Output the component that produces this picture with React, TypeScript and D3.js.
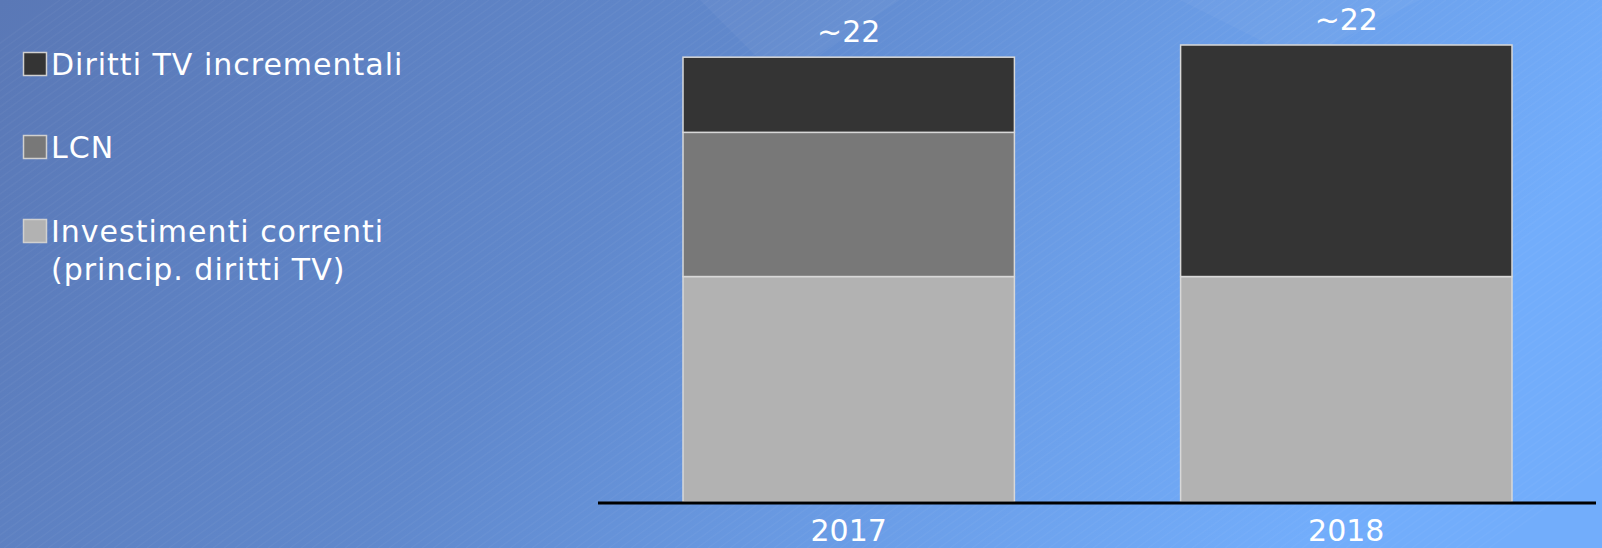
import React from "react";
import * as d3 from "d3";

const years = ["2017", "2018"];
const seriesNames = ["Investimenti correnti", "LCN", "Diritti TV incrementali"];
const investimenti = [11.1, 11.1];
const lcn = [7.1, 0];
const diritti = [3.7, 11.4];
const totalLabels = ["~22", "~22"];
const legendItems = [
  { key: "Diritti TV incrementali", lines: ["Diritti TV incrementali"] },
  { key: "LCN", lines: ["LCN"] },
  { key: "Investimenti correnti", lines: ["Investimenti correnti", "(princip. diritti TV)"] },
];

const W = 1602;
const H = 548;
const colors: Record<string, string> = {
  "Investimenti correnti": "#b2b2b2",
  LCN: "#787878",
  "Diritti TV incrementali": "#343434",
};

export default function App() {
  const baseY = 502;
  const x = d3.scaleBand<string>().domain(years).range([683, 1512]).paddingInner(0.334).paddingOuter(0);
  const y = d3.scaleLinear().domain([0, 22.5]).range([baseY, 45]);
  const rows = years.map((yr, i) => ({
    year: yr,
    "Investimenti correnti": investimenti[i],
    LCN: lcn[i],
    "Diritti TV incrementali": diritti[i],
  }));
  const stack = d3.stack<any>().keys(seriesNames)(rows);
  const font = "'DejaVu Sans', Verdana, sans-serif";
  const legendY = [64, 147, 231];

  const streaks = d3.range(0, 200);

  return (
    <svg width={W} height={H} style={{ position: "absolute", left: 0, top: 0 }} fontFamily={font}>
      <defs>
        <linearGradient id="bg" x1="0" y1="0" x2="1" y2="0.25">
          <stop offset="0" stopColor="#5a78b6" />
          <stop offset="0.45" stopColor="#6088cc" />
          <stop offset="0.75" stopColor="#6b9ee8" />
          <stop offset="1" stopColor="#72adfb" />
        </linearGradient>
      </defs>
      <rect x={0} y={0} width={W} height={H} fill="url(#bg)" />
      <g opacity={0.03} stroke="#ffffff" strokeWidth={1.5}>
        {streaks.map((i) => (
          <line key={i} x1={-700 + i * 11} y1={H} x2={-700 + i * 11 + 760} y2={0} />
        ))}
      </g>
      <polygon points="700,0 900,0 780,80" fill="#ffffff" opacity={0.04} />
      <polygon points="1180,0 1420,0 1300,60" fill="#ffffff" opacity={0.04} />

      {stack.map((s) =>
        s.map((d, i) => {
          const h = y(d[0]) - y(d[1]);
          if (h <= 0) return null;
          return (
            <rect
              key={s.key + i}
              x={x(years[i])!}
              y={y(d[1])}
              width={x.bandwidth()}
              height={h}
              fill={colors[s.key]}
              stroke="#d8d8d8"
              strokeWidth={1.5}
            />
          );
        })
      )}

      {years.map((yr, i) => {
        const top = y(investimenti[i] + lcn[i] + diritti[i]);
        return (
          <text
            key={"t" + yr}
            x={x(yr)! + x.bandwidth() / 2}
            y={top - 15}
            textAnchor="middle"
            fontSize={30}
            fill="#ffffff"
          >
            {totalLabels[i]}
          </text>
        );
      })}

      <line x1={598} x2={1596} y1={503} y2={503} stroke="#000" strokeWidth={3} />

      {years.map((yr) => (
        <text
          key={"y" + yr}
          x={x(yr)! + x.bandwidth() / 2}
          y={541}
          textAnchor="middle"
          fontSize={30}
          fill="#ffffff"
        >
          {yr}
        </text>
      ))}

      {legendItems.map((it, i) => (
        <g key={it.key}>
          <rect
            x={23.5}
            y={legendY[i] - 11.5}
            width={23}
            height={23}
            fill={colors[it.key]}
            stroke="#d0d0d0"
            strokeWidth={1.5}
          />
          {it.lines.map((ln, j) => (
            <text
              key={j}
              x={51}
              y={legendY[i] + 11 + j * 38}
              fontSize={30}
              letterSpacing={1}
              fill="#ffffff"
            >
              {ln}
            </text>
          ))}
        </g>
      ))}
    </svg>
  );
}
